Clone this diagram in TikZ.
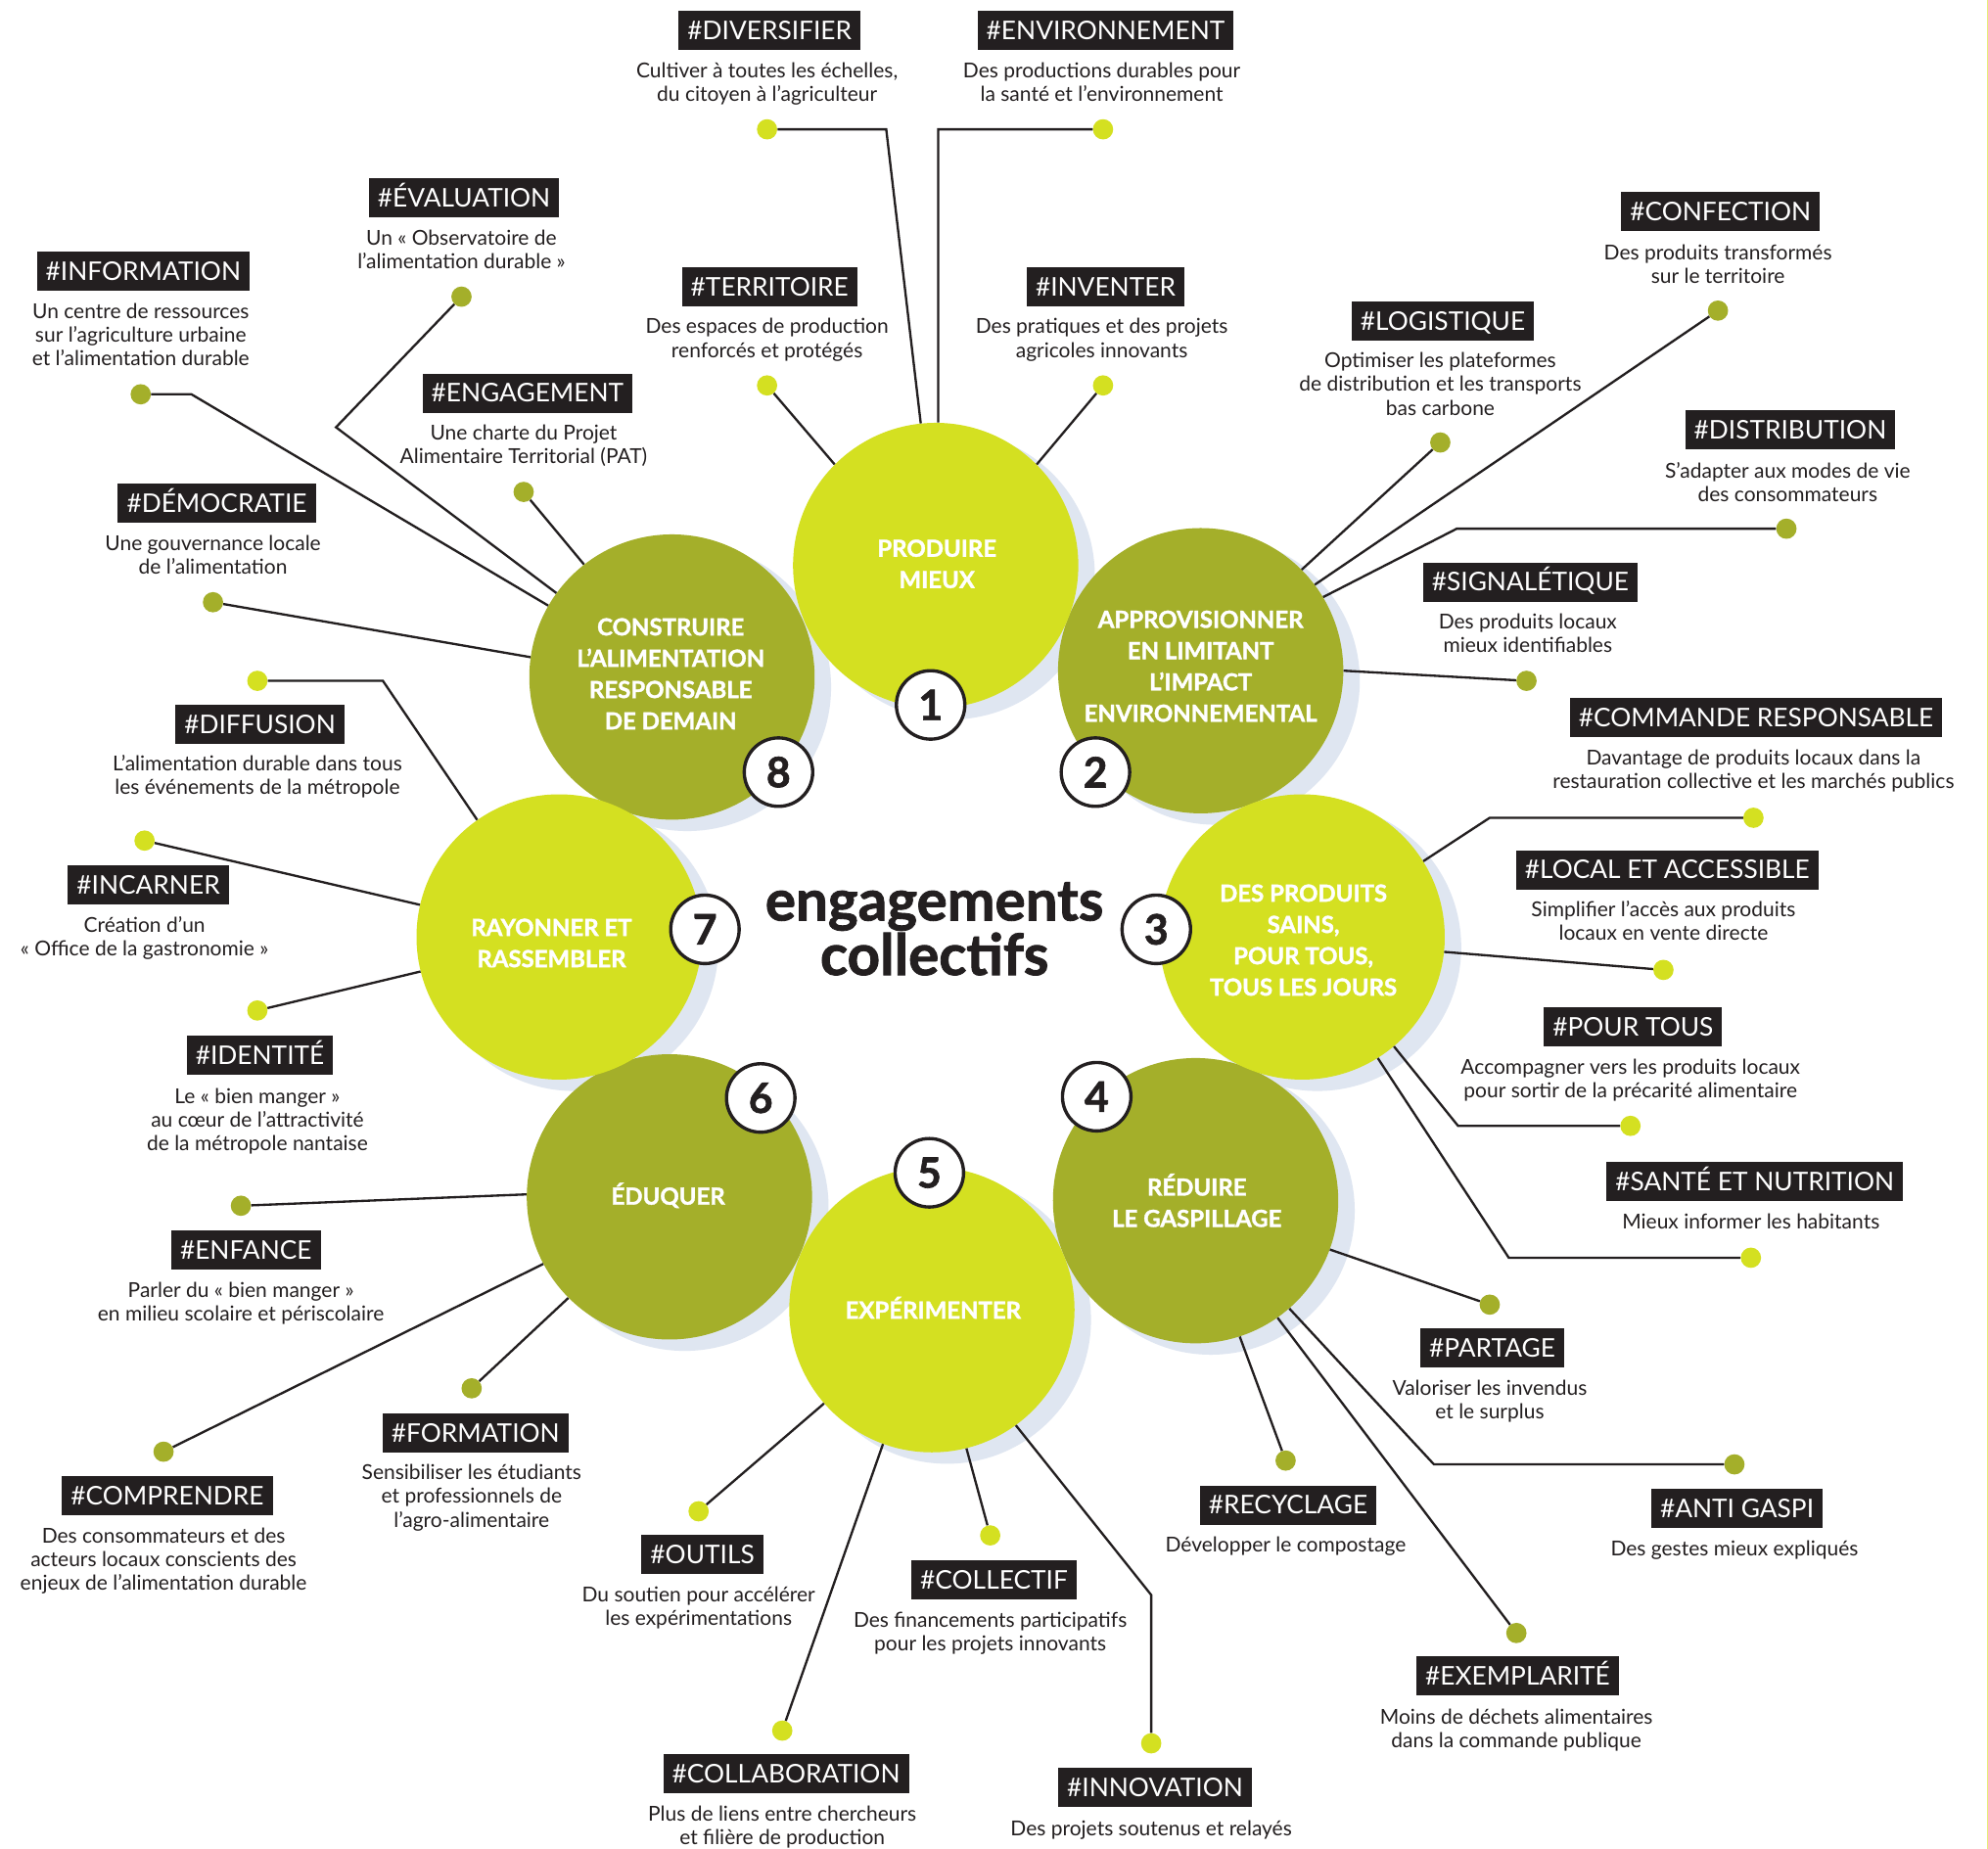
\documentclass[tikz,border=0pt]{standalone}
\usepackage{fontspec}
\setmainfont{Lato}
\newfontfamily\heavy{Lato}[BoldFeatures={FakeBold=1.5}]
\definecolor{limeC}{HTML}{D4E021}
\definecolor{oliveC}{HTML}{A4AF2A}
\definecolor{shadowC}{HTML}{DFE6F1}
\definecolor{inkC}{HTML}{231F20}
\definecolor{edgeC}{HTML}{E6EE7A}
\newcommand\tagb[4]{\node[tagbox] (#1) at (#2,#3) {#4};}
\newcommand\descr[4]{\node[descbox] (#1) at (#2,#3-9) {\rule{0pt}{14pt}#4};}
\newcommand\clab[4]{\node[ctext] (#1) at (#2,#3-6.6) {\rule{0pt}{13.2pt}#4};}
\begin{document}
\begin{tikzpicture}[x=1pt,y=-1pt,
  conn/.style={draw=inkC,line width=1.8pt},
  dotL/.style={circle,fill=limeC,minimum size=16pt,inner sep=0pt},
  dotO/.style={circle,fill=oliveC,minimum size=16pt,inner sep=0pt},
  tagbox/.style={fill=inkC,text=white,font=\fontsize{20.3}{24}\selectfont,inner xsep=7pt,inner ysep=8.2pt,text height=14.5pt,text depth=0pt},
  descbox/.style={align=center,anchor=north,inner sep=0pt,text=inkC,font=\fontsize{16.2}{18.6}\selectfont},
  bigc/.style={circle,minimum size=225pt,inner sep=0pt},
  shad/.style={circle,fill=shadowC,minimum size=227pt,inner sep=0pt},
  ctext/.style={align=center,anchor=north,inner sep=0pt,text=white,font=\heavy\bfseries\fontsize{18.5}{24.7}\selectfont},
  badge/.style={circle,draw=inkC,line width=2.6pt,fill=white,minimum size=54pt,inner sep=0pt,font=\heavy\bfseries\fontsize{33}{33}\selectfont,text=inkC},
  ttl/.style={anchor=base,inner sep=0pt,text=inkC,font=\heavy\bfseries\fontsize{45}{40}\selectfont}
]
\useasboundingbox (0,0) rectangle (1568,1458);
\fill[white] (0,0) rectangle (1568,1458);
\draw[edgeC,line width=0.9pt] (1567.4,0) -- (1567.4,1458);

% shadows
\node[shad] (s1) at (750,454) {};
\node[shad] (s2) at (959,537) {};
\node[shad] (s3) at (1039,747) {};
\node[shad] (s4) at (955,955) {};
\node[shad] (s5) at (747,1041) {};
\node[shad] (s6) at (540,952) {};
\node[shad] (s7) at (453,747) {};
\node[shad] (s8) at (542,542) {};

% circles
\node[bigc,fill=oliveC] (c2) at (947,529) {};
\node[bigc,fill=oliveC] (c4) at (943,947) {};
\node[bigc,fill=oliveC] (c6) at (528,944) {};
\node[bigc,fill=oliveC] (c8) at (530,534) {};
\node[bigc,fill=limeC] (c1) at (738,446) {};
\node[bigc,fill=limeC] (c3) at (1027,739) {};
\node[bigc,fill=limeC] (c5) at (735,1033) {};
\node[bigc,fill=limeC] (c7) at (441,739) {};

% ---------- circle 1
\tagb{tdiv}{607}{24}{\#DIVERSIFIER}
\descr{xdiv}{605}{56}{Cultiver à toutes les échelles,\\du citoyen à l’agriculteur}
\node[dotL] (ddiv) at (605,102) {};
\tagb{tenv}{872}{24}{\#ENVIRONNEMENT}
\descr{xenv}{869}{56}{Des productions durables pour\\la santé et l’environnement}
\node[dotL] (denv) at (870,102) {};
\tagb{tter}{607}{226}{\#TERRITOIRE}
\descr{xter}{605}{258}{Des espaces de production\\renforcés et protégés}
\node[dotL] (dter) at (605,304) {};
\tagb{tinv}{872}{226}{\#INVENTER}
\descr{xinv}{869}{258}{Des pratiques et des projets\\agricoles innovants}
\node[dotL] (dinv) at (870,304) {};

% ---------- circle 2
\tagb{tlog}{1138}{253}{\#LOGISTIQUE}
\descr{xlog}{1136}{285}{Optimiser les plateformes\\de distribution et les transports\\bas carbone}
\node[dotO] (dlog) at (1136,349) {};
\tagb{tconf}{1357}{167}{\#CONFECTION}
\descr{xconf}{1355}{200}{Des produits transformés\\sur le territoire}
\node[dotO] (dconf) at (1355,245) {};
\tagb{tdist}{1412}{339}{\#DISTRIBUTION}
\descr{xdist}{1410}{372}{S’adapter aux modes de vie\\des consommateurs}
\node[dotO] (ddist) at (1409,417) {};
\tagb{tsig}{1207}{459}{\#SIGNALÉTIQUE}
\descr{xsig}{1205}{491}{Des produits locaux\\mieux identifiables}
\node[dotO] (dsig) at (1204,537) {};

% ---------- circle 3
\tagb{tcmd}{1385}{566}{\#COMMANDE RESPONSABLE}
\descr{xcmd}{1383}{598}{Davantage de produits locaux dans la\\restauration collective et les marchés publics}
\node[dotL] (dcmd) at (1383,645) {};
\tagb{tloc}{1315}{686}{\#LOCAL ET ACCESSIBLE}
\descr{xloc}{1312}{718}{Simplifier l’accès aux produits\\locaux en vente directe}
\node[dotL] (dloc) at (1312,765) {};
\tagb{tpour}{1288}{810}{\#POUR TOUS}
\descr{xpour}{1286}{842}{Accompagner vers les produits locaux\\pour sortir de la précarité alimentaire}
\node[dotL] (dpour) at (1286,888) {};
\tagb{tsan}{1384}{932}{\#SANTÉ ET NUTRITION}
\descr{xsan}{1381}{964}{Mieux informer les habitants}
\node[dotL] (dsan) at (1381,992) {};

% ---------- circle 4
\tagb{tpart}{1177}{1063}{\#PARTAGE}
\descr{xpart}{1175}{1095}{Valoriser les invendus\\et le surplus}
\node[dotO] (dpart) at (1175,1029) {};
\tagb{trec}{1016}{1187}{\#RECYCLAGE}
\descr{xrec}{1014}{1219}{Développer le compostage}
\node[dotO] (drec) at (1014,1152) {};
\tagb{tanti}{1370}{1190}{\#ANTI GASPI}
\descr{xanti}{1368}{1222}{Des gestes mieux expliqués}
\node[dotO] (danti) at (1368,1155) {};
\tagb{texe}{1197}{1322}{\#EXEMPLARITÉ}
\descr{xexe}{1196}{1355}{Moins de déchets alimentaires\\dans la commande publique}
\node[dotO] (dexe) at (1196,1288) {};

% ---------- circle 5
\tagb{tout}{554}{1226}{\#OUTILS}
\descr{xout}{551}{1258}{Du soutien pour accélérer\\les expérimentations}
\node[dotL] (dout) at (551,1192) {};
\tagb{tcolt}{784}{1246}{\#COLLECTIF}
\descr{xcolt}{781}{1278}{Des financements participatifs\\pour les projets innovants}
\node[dotL] (dcolt) at (781,1211) {};
\tagb{tcolb}{620}{1399}{\#COLLABORATION}
\descr{xcolb}{617}{1431}{Plus de liens entre chercheurs\\et filière de production}
\node[dotL] (dcolb) at (617,1365) {};
\tagb{tinno}{911}{1410}{\#INNOVATION}
\descr{xinno}{908}{1443}{Des projets soutenus et relayés}
\node[dotL] (dinno) at (908,1375) {};

% ---------- circle 6
\tagb{tenf}{194}{986}{\#ENFANCE}
\descr{xenf}{190}{1018}{Parler du « bien manger »\\en milieu scolaire et périscolaire}
\node[dotO] (denf) at (190,951) {};
\tagb{tform}{375}{1130}{\#FORMATION}
\descr{xform}{372}{1162}{Sensibiliser les étudiants\\et professionnels de\\l’agro-alimentaire}
\node[dotO] (dform) at (372,1095) {};
\tagb{tcomp}{132}{1180}{\#COMPRENDRE}
\descr{xcomp}{129}{1212}{Des consommateurs et des\\acteurs locaux conscients des\\enjeux de l’alimentation durable}
\node[dotO] (dcomp) at (129,1145) {};

% ---------- circle 7
\tagb{tdiff}{205}{571}{\#DIFFUSION}
\descr{xdiff}{203}{603}{L’alimentation durable dans tous\\les événements de la métropole}
\node[dotL] (ddiff) at (203,537) {};
\tagb{tinc}{117}{698}{\#INCARNER}
\descr{xinc}{114}{730}{Création d’un\\« Office de la gastronomie »}
\node[dotL] (dinc) at (114,663) {};
\tagb{tide}{205}{832}{\#IDENTITÉ}
\descr{xide}{203}{865}{Le « bien manger »\\au cœur de l’attractivité\\de la métropole nantaise}
\node[dotL] (dide) at (203,797) {};

% ---------- circle 8
\tagb{teval}{366}{156}{\#ÉVALUATION}
\descr{xeval}{364}{188}{Un « Observatoire de\\l’alimentation durable »}
\node[dotO] (deval) at (364,234) {};
\tagb{tinfo}{113}{214}{\#INFORMATION}
\descr{xinfo}{111}{246}{Un centre de ressources\\sur l’agriculture urbaine\\et l’alimentation durable}
\node[dotO] (dinfo) at (111,311) {};
\tagb{teng}{416}{310}{\#ENGAGEMENT}
\descr{xeng}{413}{342}{Une charte du Projet\\Alimentaire Territorial (PAT)}
\node[dotO] (deng) at (413,388) {};
\tagb{tdemo}{171}{397}{\#DÉMOCRATIE}
\descr{xdemo}{168}{429}{Une gouvernance locale\\de l’alimentation}
\node[dotO] (ddemo) at (168,475) {};

% bend points
\coordinate (bdiv) at (699,102);
\coordinate (benv) at (740,102);
\coordinate (bdist) at (1149,417);
\coordinate (bcmd) at (1175,645);
\coordinate (bpour) at (1150,888);
\coordinate (bsan) at (1190,992);
\coordinate (banti) at (1131,1155);
\coordinate (binno) at (908,1258);
\coordinate (bdiff) at (302,537);
\coordinate (beval) at (265,337);
\coordinate (binfo) at (151,311);

% connectors
\draw[conn] (ddiv) -- (bdiv) -- (c1.96);
\draw[conn] (denv) -- (benv) -- (c1.89);
\draw[conn] (dter) -- (c1.135);
\draw[conn] (dinv) -- (c1.45);
\draw[conn] (dlog) -- (c2.45);
\draw[conn] (dconf) -- (c2.37);
\draw[conn] (ddist) -- (bdist) -- (c2.31);
\draw[conn] (dsig) -- (c2.0);
\draw[conn] (dcmd) -- (bcmd) -- (c3.32);
\draw[conn] (dloc) -- (c3.354);
\draw[conn] (dpour) -- (bpour) -- (c3.310);
\draw[conn] (dsan) -- (bsan) -- (c3.302);
\draw[conn] (dpart) -- (c4.340);
\draw[conn] (drec) -- (c4.288);
\draw[conn] (danti) -- (banti) -- (c4.311);
\draw[conn] (dexe) -- (c4.305);
\draw[conn] (dout) -- (c5.221);
\draw[conn] (dcolt) -- (c5.284);
\draw[conn] (dcolb) -- (c5.250);
\draw[conn] (dinno) -- (binno) -- (c5.306);
\draw[conn] (denf) -- (c6.179);
\draw[conn] (dform) -- (c6.225);
\draw[conn] (dcomp) -- (c6.208);
\draw[conn] (ddiff) -- (bdiff) -- (c7.125);
\draw[conn] (dinc) -- (c7.167);
\draw[conn] (dide) -- (c7.194);
\draw[conn] (deval) -- (beval) -- (c8.144);
\draw[conn] (dinfo) -- (binfo) -- (c8.150);
\draw[conn] (deng) -- (c8.128);
\draw[conn] (ddemo) -- (c8.172);

% circle labels
\clab{l1}{739}{432}{PRODUIRE\\MIEUX}
\clab{l2}{947}{488}{APPROVISIONNER\\EN LIMITANT\\L’IMPACT\\ENVIRONNEMENTAL}
\clab{l3}{1028}{704}{DES PRODUITS\\SAINS,\\POUR TOUS,\\TOUS LES JOURS}
\clab{l4}{944}{936}{R\smash{É}DUIRE\\LE GASPILLAGE}
\clab{l5}{736}{1033}{EXP\smash{É}RIMENTER}
\clab{l6}{527}{943}{\smash{É}DUQUER}
\clab{l7}{435}{731}{RAYONNER ET\\RASSEMBLER}
\clab{l8}{529}{494}{CONSTRUIRE\\L’ALIMENTATION\\RESPONSABLE\\DE DEMAIN}

% badges
\node[badge] (n1) at (734,556) {1};
\node[badge] (n2) at (864,609) {2};
\node[badge] (n3) at (912,733) {3};
\node[badge] (n4) at (865,865) {4};
\node[badge] (n5) at (733,925) {5};
\node[badge] (n6) at (600,866) {6};
\node[badge] (n7) at (556,733) {7};
\node[badge] (n8) at (614,609) {8};

% title
\node[ttl] (ti1) at (737,726) {engagements};
\node[ttl] (ti2) at (737,769) {collectifs};
\end{tikzpicture}
\end{document}
